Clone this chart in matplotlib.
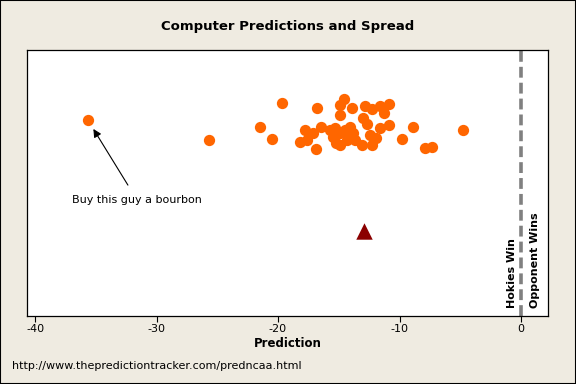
import matplotlib.pyplot as plt
from matplotlib.patches import Rectangle

plt.rcParams['axes.unicode_minus'] = False

# computer predictions (margin, Hokies perspective) and vertical jitter
pred = [-35.6, -25.7, -19.7, -16.8, -21.5, -20.5, -14.6, -14.9, -13.9, -12.8,
        -12.3, -11.6, -10.9, -11.3, -14.9, -13.0, -12.7, -10.9, -11.6, -8.9,
        -4.75, -9.8, -7.9, -7.35, -17.8, -16.5, -17.1, -18.2, -17.6, -16.9,
        -15.3, -15.45, -14.9, -14.1, -13.8, -14.35, -13.65, -13.1, -12.3, -11.9,
        -12.4, -14.9, -15.2, -14.5, -15.7]
jitter = [196, 176, 213, 208, 189, 177, 217, 211, 208, 210,
          207, 210, 212, 203, 201, 198, 192, 191, 188, 189,
          186, 177, 168, 169, 186, 189, 183, 174, 176, 167,
          188, 179, 171, 189, 183, 176, 176, 171, 171, 178,
          181, 183, 173, 186, 186]

spread = -12.9
spread_y = 85

fig = plt.figure(figsize=(5.76, 3.84), dpi=100, facecolor='#EFEBE1')
ax = fig.add_axes([0.0469, 0.177, 0.904, 0.693])

ax.scatter(pred, jitter, s=66, color='#FF6600', zorder=3, linewidths=0)
ax.scatter([spread], [spread_y], s=140, marker='^', color='#8B0000', zorder=3, linewidths=0)

ax.axvline(0, color='#808080', linestyle=(0, (3, 1.4)), linewidth=2.6, zorder=2)

ax.text(-0.3, 8, 'Hokies Win', rotation=90, ha='right', va='bottom',
        fontsize=8, fontweight='bold')
ax.text(0.75, 8, 'Opponent Wins', rotation=90, ha='left', va='bottom',
        fontsize=8, fontweight='bold')

ax.annotate('Buy this guy a bourbon', xy=(-35.2, 187), xytext=(-31.6, 116),
            ha='center', va='center', fontsize=8,
            arrowprops=dict(arrowstyle='-|>', color='black', lw=0.8,
                            mutation_scale=12, shrinkA=6, shrinkB=0))

ax.set_xlim(-40.66, 2.2)
ax.set_ylim(0, 266)
ax.set_xticks([-40, -30, -20, -10, 0])
ax.set_yticks([])
ax.tick_params(axis='x', labelsize=8, length=4, width=0.8, pad=2)
for s in ax.spines.values():
    s.set_linewidth(0.9)
ax.set_xlabel('Prediction', fontsize=8.5, fontweight='bold', labelpad=2)

fig.text(0.5, 0.93, 'Computer Predictions and Spread', ha='center', va='center',
         fontsize=9.5, fontweight='bold')
fig.text(0.021, 0.047, 'http://www.thepredictiontracker.com/predncaa.html',
         ha='left', va='center', fontsize=8)

fig.patches.append(Rectangle((0, 0), 1, 1, transform=fig.transFigure,
                             fill=False, edgecolor='black', linewidth=1.5))

fig.savefig('out.png', dpi=100, facecolor=fig.get_facecolor())
